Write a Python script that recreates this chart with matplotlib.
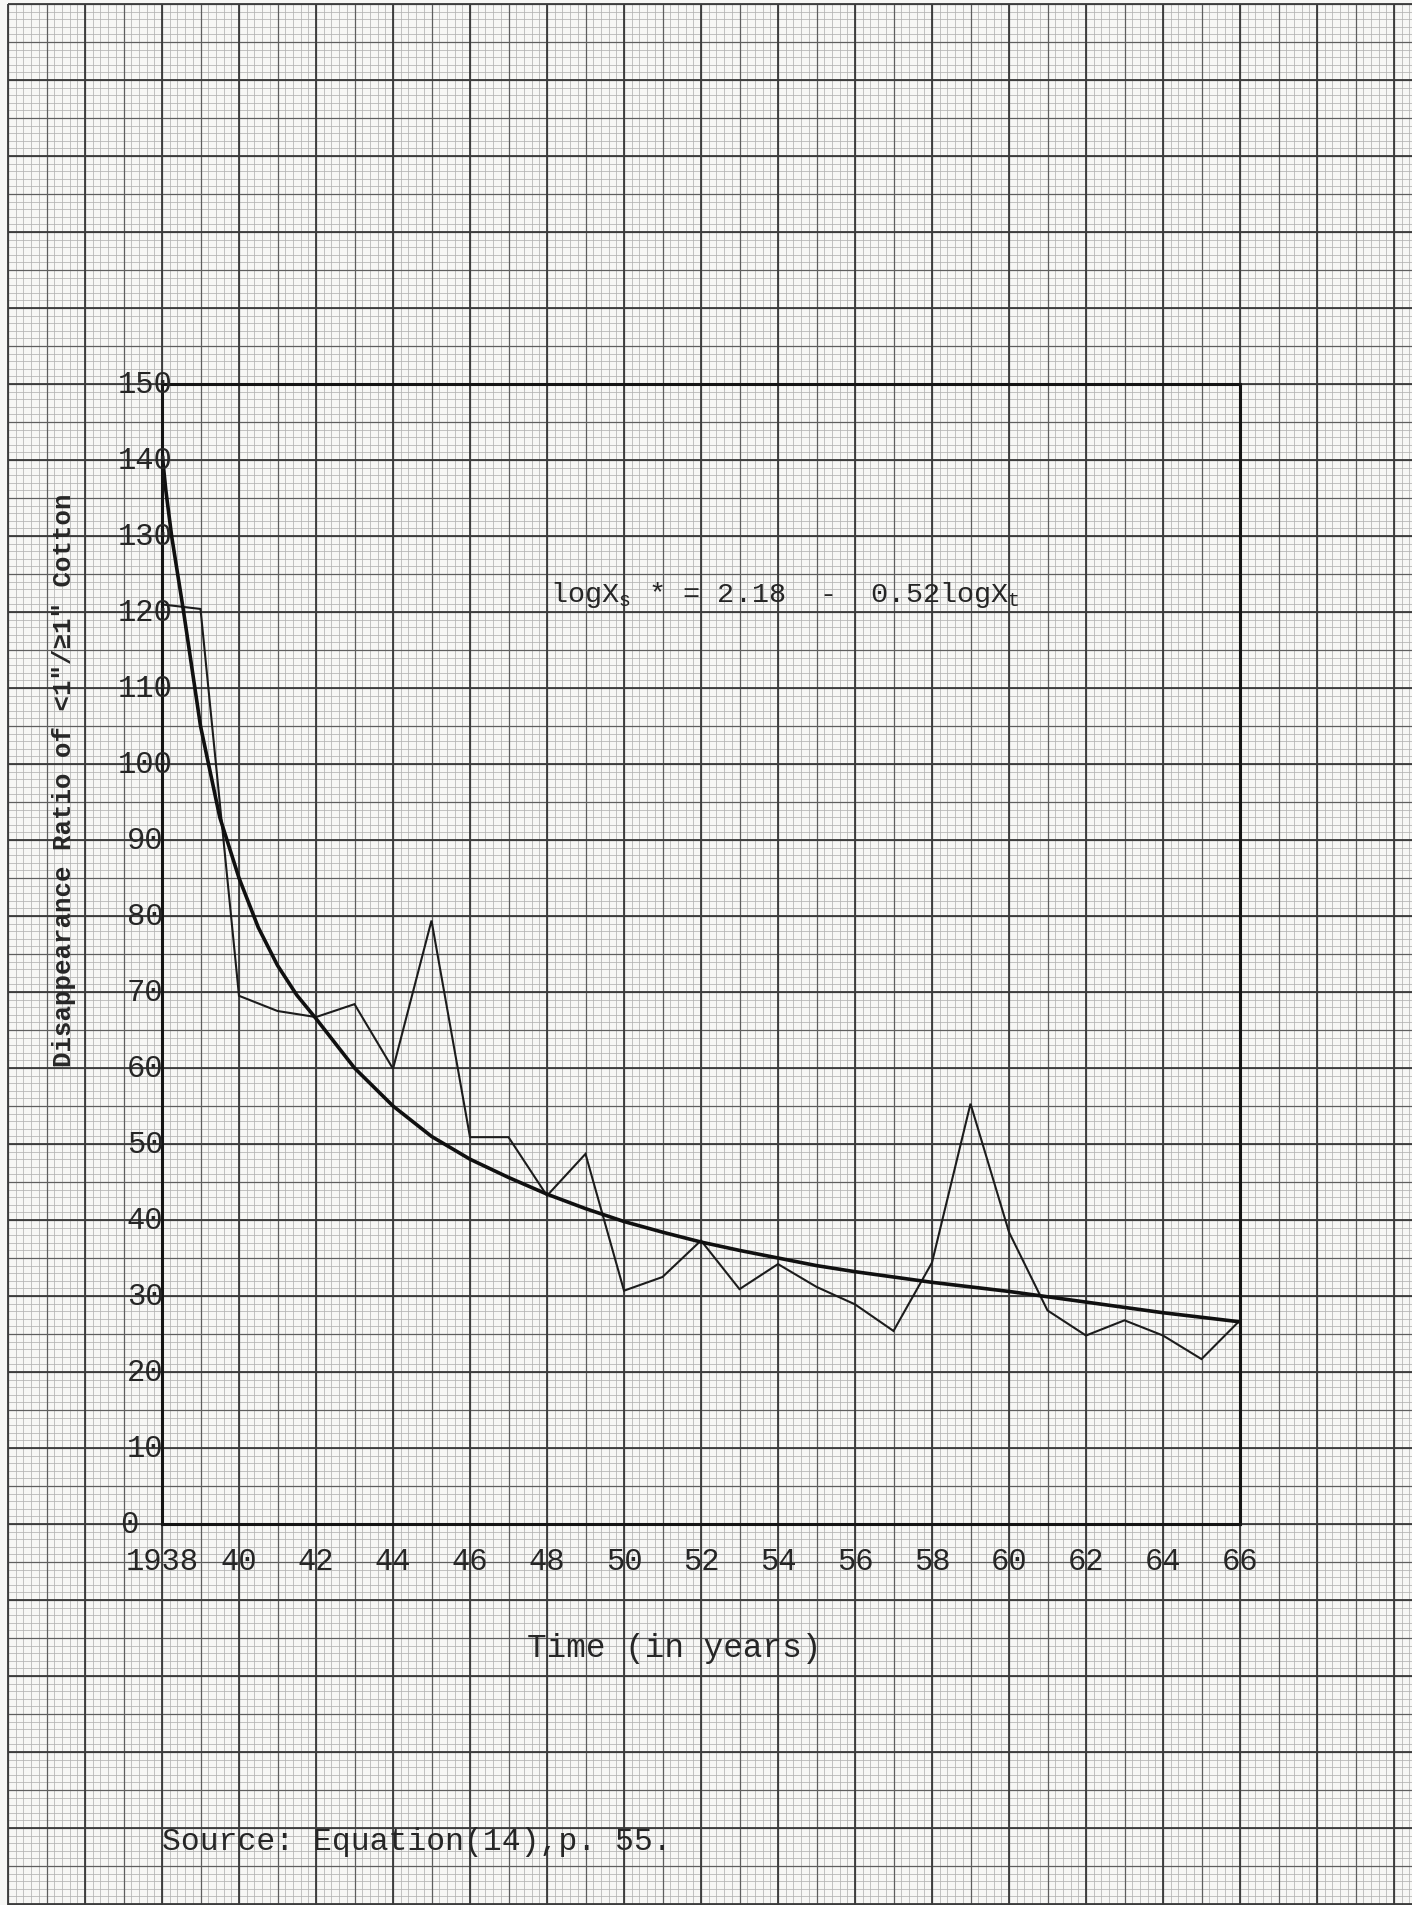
import matplotlib.pyplot as plt
import matplotlib.transforms as mtransforms
import numpy as np

plt.rcParams['mathtext.fontset'] = 'custom'
plt.rcParams['mathtext.rm'] = 'Liberation Mono'
plt.rcParams['mathtext.it'] = 'Liberation Mono'
plt.rcParams['mathtext.bf'] = 'Liberation Mono:bold'

# disappearance ratio
years = [1938, 1939, 1940, 1941, 1942, 1943, 1944, 1945, 1946, 1947,
         1948, 1949, 1950, 1951, 1952, 1953, 1954, 1955, 1956, 1957,
         1958, 1959, 1960, 1961, 1962, 1963, 1964, 1965, 1966]
ratio = [121, 120.4, 69.5, 67.5, 66.7, 68.4, 59.9, 79.4, 50.9, 50.9,
         43.2, 48.7, 30.7, 32.5, 37.3, 30.9, 34.2, 31.2, 28.9, 25.4,
         34.4, 55.3, 38.4, 28.1, 24.8, 26.8, 24.8, 21.7, 26.8]

# fitted curve, points
fit_years = [1938.0, 1938.1, 1938.25, 1938.55, 1939, 1939.5, 1940, 1940.5,
             1941, 1941.5, 1942, 1943, 1944, 1945, 1946, 1947, 1948, 1949,
             1950, 1951, 1952, 1953, 1954, 1955, 1956, 1957, 1958, 1959,
             1960, 1961, 1962, 1963, 1964, 1965, 1966]
fit_ratio = [141, 136, 130, 120.4, 105, 93, 85, 78.5,
             73.5, 69.6, 66.5, 60, 55, 51, 48, 45.6, 43.4, 41.5,
             39.8, 38.4, 37.1, 36, 35, 34, 33.2, 32.5, 31.8, 31.2,
             30.6, 29.9, 29.2, 28.5, 27.8, 27.2, 26.6]

xtick_years = [1938, 1940, 1942, 1944, 1946, 1948, 1950, 1952, 1954,
               1956, 1958, 1960, 1962, 1964, 1966]
xtick_labels = ["1938", "40", "42", "44", "46", "48", "50", "52", "54",
                "56", "58", "60", "62", "64", "66"]
ytick_values = [0, 10, 20, 30, 40, 50, 60, 70, 80, 90, 100, 110, 120, 130, 140, 150]

mono = ['Liberation Mono', 'DejaVu Sans Mono']
ink = '#262626'

W, H = 1412, 1906
x0_px, x1_px = 162, 1240      # columns of 1938 and 1966
y0_px, y1_px = 1525, 385      # rows of 0 and 150
px_year = (x1_px - x0_px) / 28
px_unit = (y0_px - y1_px) / 150

fig = plt.figure(figsize=(W / 100, H / 100), dpi=100)
fig.patch.set_facecolor('#f7f7f5')

# graph paper behind everything
paper = fig.add_axes([0, 0, 1, 1])
xl = (1938 - x0_px / px_year, 1938 + (W - x0_px) / px_year)
yl = (-(H - y0_px) / px_unit, y0_px / px_unit)
paper.set_xlim(*xl)
paper.set_ylim(*yl)
paper.axis('off')

gx0, gy1 = 1934, 200
fine_x = np.arange(gx0, xl[1], 0.2)
fine_y = np.arange(-51, gy1 + 0.1, 1)
paper.vlines(fine_x, yl[0], gy1, color='#b2b2b2', lw=0.55)
paper.hlines(fine_y, gx0, xl[1], color='#b2b2b2', lw=0.55)
mid_x = np.arange(gx0, xl[1], 1)
mid_y = np.arange(-50, gy1 + 1, 5)
paper.vlines(mid_x, yl[0], gy1, color='#5e5e5e', lw=0.9)
paper.hlines(mid_y, gx0, xl[1], color='#5e5e5e', lw=0.9)
big_x = np.arange(gx0, xl[1], 2)
big_y = np.arange(-50, gy1 + 1, 10)
paper.vlines(big_x, yl[0], gy1, color='#3a3a3a', lw=1.3)
paper.hlines(big_y, gx0, xl[1], color='#3a3a3a', lw=1.3)

# the chart itself
ax = fig.add_axes([x0_px / W, 1 - y0_px / H, (x1_px - x0_px) / W, (y0_px - y1_px) / H])
ax.patch.set_alpha(0)
ax.set_xlim(1938, 1966)
ax.set_ylim(0, 150)
for s in ax.spines.values():
    s.set_linewidth(2.2)
    s.set_color('#141414')

ax.plot(years, ratio, color='#1c1c1c', lw=1.5, solid_joinstyle='miter')
ax.plot(fit_years, fit_ratio, color='#101010', lw=2.6, solid_capstyle='round')

ax.set_xticks(xtick_years, xtick_labels)
ax.tick_params(axis='x', length=0, pad=16, labelsize=22, labelcolor=ink)
for lab in ax.get_xticklabels():
    lab.set_family(mono)
ax.set_yticks([])

for v in ytick_values:
    shift = -33 if v == 0 else -17
    tr = mtransforms.offset_copy(ax.get_yaxis_transform(), fig=fig, x=shift, y=0, units='dots')
    ax.text(0, v, str(v), transform=tr, ha='center', va='center',
            fontsize=22, family=mono, color=ink)

fig.text(674 / W, 1 - 1649 / H, "Time (in years)", ha='center', va='center',
         fontsize=23.5, family=mono, color=ink)
fig.text(64 / W, 1 - 780 / H, 'Disappearance Ratio of <1"/\u22651" Cotton',
         rotation=90, ha='center', va='center', fontsize=18.5, fontweight='bold',
         family=mono, color=ink)
fig.text(550 / W, 1 - 595 / H, r"logX$_\mathrm{s}$ * = 2.18  -  0.52logX$_\mathrm{t}$",
         ha='left', va='center', fontsize=20.5, family=mono, color=ink)
fig.text(162 / W, 1 - 1842 / H, "Source: Equation(14),p. 55.", ha='left', va='center',
         fontsize=22.6, family=mono, color=ink)

fig.savefig("out.png", dpi=100, facecolor=fig.get_facecolor())
